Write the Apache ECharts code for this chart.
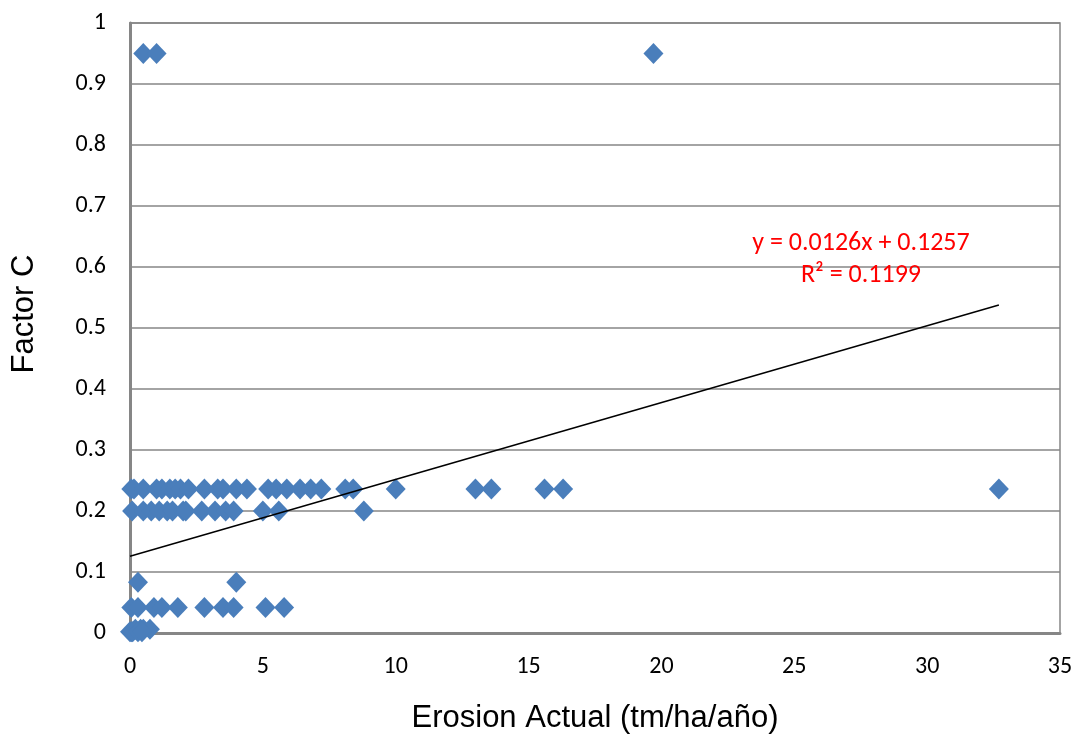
<!DOCTYPE html>
<html>
<head>
<meta charset="utf-8">
<script src="https://cdn.jsdelivr.net/npm/echarts@6/dist/echarts.min.js"></script>
<style>html,body{margin:0;padding:0;background:#fff}#c{width:1085px;height:742px}</style>
</head>
<body>
<div id="c"></div>
<script>
// Erosion actual (x) values per Factor C level (y)
const cLevels = [0.95, 0.236, 0.2, 0.083, 0.042, 0.006, 0.002];
const xAt095 = [0.5, 1.0, 19.7];
const xAt0236 = [0.05, 0.15, 0.5, 1.0, 1.2, 1.5, 1.7, 1.9, 2.2, 2.8, 3.3, 3.5, 4.0, 4.4, 5.2, 5.5, 5.9, 6.4, 6.8, 7.2, 8.1, 8.4, 10.0, 13.0, 13.6, 15.6, 16.3, 32.7];
const xAt02 = [0.08, 0.5, 0.8, 1.1, 1.4, 1.6, 2.0, 2.1, 2.7, 3.2, 3.6, 3.9, 5.0, 5.6, 8.8];
const xAt0083 = [0.3, 4.0];
const xAt0042 = [0.05, 0.3, 0.9, 1.2, 1.8, 2.8, 3.5, 3.9, 5.1, 5.8];
const xAt0006 = [0.2, 0.4, 0.5, 0.75];
const xAt0002 = [0.0, 0.05, 0.1, 0.3, 0.45];
const trendSlope = 0.0126;
const trendIntercept = 0.1257;
const trendRange = [0, 32.7];
const trendLabels = ['y = 0.0126x + 0.1257', 'R² = 0.1199'];
const xTicks = [0, 5, 10, 15, 20, 25, 30, 35];
const yTicks = [0, 0.1, 0.2, 0.3, 0.4, 0.5, 0.6, 0.7, 0.8, 0.9, 1];
const xTitle = 'Erosion Actual (tm/ha/año)';
const yTitle = 'Factor C';

const groups = [xAt095, xAt0236, xAt02, xAt0083, xAt0042, xAt0006, xAt0002];
const points = [];
groups.forEach((g, i) => g.forEach(x => points.push([x, cLevels[i]])));
const trend = trendRange.map(x => [x, trendSlope * x + trendIntercept]);

const chart = echarts.init(document.getElementById('c'));
const font = 'Calibri, Carlito, "Open Sans", sans-serif';
const titleFont = '"Liberation Sans", Arial, sans-serif';
chart.setOption({
  animation: false,
  grid: { left: 130, right: 25, top: 23, bottom: 109, show: true, borderColor: '#868686', borderWidth: 1.5 },
  xAxis: {
    type: 'value', min: 0, max: 35, interval: 5,
    name: xTitle, nameLocation: 'middle', nameGap: 70,
    nameTextStyle: { fontSize: 31, color: '#000', fontFamily: titleFont },
    axisLine: { lineStyle: { color: '#868686', width: 3 } },
    axisTick: { show: false },
    splitLine: { show: false },
    axisLabel: { fontSize: 24, color: '#000', margin: 22, fontFamily: font,
      formatter: v => xTicks.includes(v) ? String(v) : '' }
  },
  yAxis: {
    type: 'value', min: 0, max: 1, interval: 0.1,
    axisLine: { show: true, lineStyle: { color: '#868686', width: 3 } },
    axisTick: { show: false },
    splitLine: { show: true, lineStyle: { color: '#868686', width: 1.5 } },
    axisLabel: { fontSize: 24, color: '#000', margin: 24, fontFamily: font,
      formatter: v => { const t = yTicks.find(k => Math.abs(k - v) < 1e-9); return t === undefined ? '' : String(t); } }
  },
  series: [
    {
      type: 'line', data: trend, symbol: 'none', silent: true,
      lineStyle: { color: '#000', width: 1.5 }, z: 3
    },
    {
      type: 'scatter', data: points, symbol: 'diamond', symbolSize: [20, 21],
      itemStyle: { color: '#4a7ebb', opacity: 1 }, z: 2
    }
  ],
  graphic: [
    { type: 'text', x: 24, y: 314, rotation: Math.PI / 2, style: { text: yTitle, fill: '#000', fontSize: 31, fontFamily: titleFont, align: 'center', verticalAlign: 'middle' } },
    { type: 'text', x: 861, y: 243, z: 10, style: { text: trendLabels[0], fill: '#ff0000', fontSize: 26, fontFamily: font, align: 'center', verticalAlign: 'middle' } },
    { type: 'text', x: 861, y: 275, z: 10, style: { text: trendLabels[1], fill: '#ff0000', fontSize: 26, fontFamily: font, align: 'center', verticalAlign: 'middle' } }
  ]
});
</script>
</body>
</html>
